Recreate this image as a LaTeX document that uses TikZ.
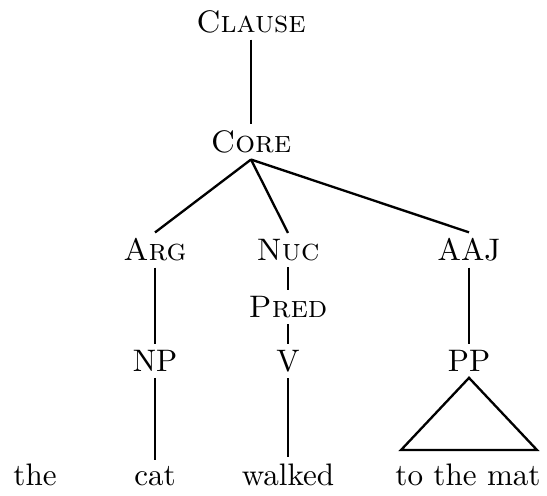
\documentclass[tikz,border=0pt]{standalone}
\usepackage{tikz}

\begin{document}
\begin{tikzpicture}[x=0.0113cm,y=-0.0113cm,every node/.style={inner sep=2pt, outer sep=0pt},branch/.style={line width=0.75pt}]
\useasboundingbox (0,0) rectangle (547,495);

\node (clause) at (251,22) {\textsc{Clause}};
\node (core) at (251,142) {\textsc{Core}};
\node (arg) at (155,250) {\textsc{Arg}};
\node (nuc) at (288,250) {\textsc{Nuc}};
\node (aaj) at (469,250) {AAJ};
\node (pred) at (288,307) {\textsc{Pred}};
\node (np) at (155,361) {NP};
\node (v) at (288,361) {V};
\node (pp) at (469,361) {PP};
\coordinate (tl) at (401,450);
\coordinate (tr) at (537,450);

\node[anchor=base] (the) at (35,485) {the};
\node[anchor=base] (cat) at (155,485) {cat};
\node[anchor=base] (walked) at (288,485) {walked};
\node[anchor=base] (mat) at (468,485) {to the mat};

\draw[branch] (clause) -- (core);
\draw[branch] (core.south) -- (arg.north);
\draw[branch] (core.south) -- (nuc.north);
\draw[branch] (core.south) -- (aaj.north);
\draw[branch] (arg) -- (np);
\draw[branch] (nuc) -- (pred);
\draw[branch] (pred) -- (v);
\draw[branch] (np) -- (cat);
\draw[branch] (v) -- (walked);
\draw[branch] (aaj) -- (pp);
\draw[branch] (pp.south) -- (tl) -- (tr) -- cycle;
\end{tikzpicture}
\end{document}
